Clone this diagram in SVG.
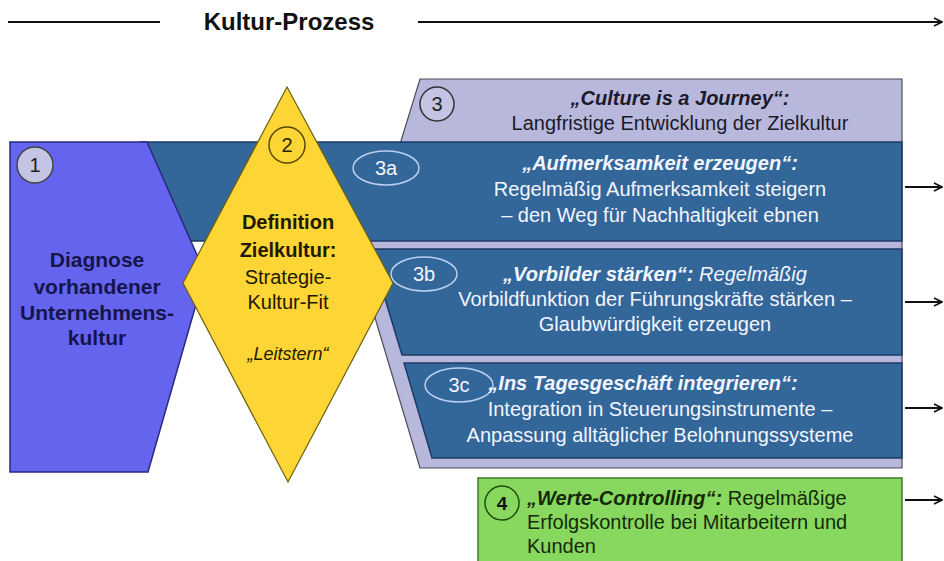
<svg xmlns="http://www.w3.org/2000/svg" width="944" height="561" viewBox="0 0 944 561">
<defs>
<style>
.t{font-family:"Liberation Sans",Arial,sans-serif}
.band{fill:#336699;stroke:#1d3b66;stroke-width:1.5}
.wt{fill:#f2f5ff;font-size:20px;text-anchor:middle}
.bi{font-weight:bold;font-style:italic}
.lab{fill:none;stroke:#b9d0f0;stroke-width:1.5}
.conn{stroke:#111;stroke-width:2;fill:none}
</style>
<marker id="ah" markerWidth="10" markerHeight="10" refX="9" refY="5" orient="auto" markerUnits="userSpaceOnUse">
<path d="M1,1 L9,5 L1,9" fill="none" stroke="#111" stroke-width="1.6"/>
</marker>
</defs>
<rect width="944" height="561" fill="#fff"/>

<g id="title">
<text class="t" x="289" y="30" font-size="24" font-weight="bold" text-anchor="middle" fill="#111">Kultur-Prozess</text>
</g>

<g id="n3">
<polygon points="420,79 902,79 902,468 420,468 361,271" fill="#b8b8dc" stroke="#4a4a5a" stroke-width="1.2"/>
<circle cx="437" cy="104" r="17" fill="#c4c4e4" stroke="#333" stroke-width="1.5"/>
<text class="t" x="437" y="111" font-size="20" text-anchor="middle" fill="#222">3</text>
<text class="t bi" x="680" y="105" font-size="20" text-anchor="middle" fill="#1a1a2a">„Culture is a Journey“:</text>
<text class="t" x="680" y="130" font-size="20" text-anchor="middle" fill="#1a1a2a">Langfristige Entwicklung der Zielkultur</text>
</g>

<g id="n3a">
<rect class="band" x="140" y="142" width="762" height="99"/>
<ellipse class="lab" cx="386" cy="168" rx="33" ry="17"/>
<text class="t" x="386" y="175" font-size="20" text-anchor="middle" fill="#f2f5ff">3a</text>
<text class="t wt bi" x="660" y="170">„Aufmerksamkeit erzeugen“:</text>
<text class="t wt" x="660" y="196">Regelmäßig Aufmerksamkeit steigern</text>
<text class="t wt" x="660" y="222">– den Weg für Nachhaltigkeit ebnen</text>
</g>

<g id="n3b">
<polygon class="band" points="370,249 902,249 902,355 402,355"/>
<ellipse class="lab" cx="424" cy="274" rx="33" ry="17"/>
<text class="t" x="424" y="281" font-size="20" text-anchor="middle" fill="#f2f5ff">3b</text>
<text class="t wt" x="655" y="281"><tspan class="bi">„Vorbilder stärken“:</tspan><tspan font-style="italic"> Regelmäßig</tspan></text>
<text class="t wt" x="655" y="306">Vorbildfunktion der Führungskräfte stärken –</text>
<text class="t wt" x="655" y="331">Glaubwürdigkeit erzeugen</text>
</g>

<g id="n3c">
<polygon class="band" points="404,363 902,363 902,458 432,458"/>
<ellipse class="lab" cx="459" cy="385" rx="34" ry="17"/>
<text class="t" x="459" y="392" font-size="20" text-anchor="middle" fill="#f2f5ff">3c</text>
<text class="t wt bi" x="643" y="390">„Ins Tagesgeschäft integrieren“:</text>
<text class="t wt" x="660" y="416">Integration in Steuerungsinstrumente  –</text>
<text class="t wt" x="660" y="442">Anpassung alltäglicher Belohnungssysteme</text>
</g>

<g id="n1">
<polygon points="10,142 147,142 205,273 148,472 10,472" fill="#6464ee" stroke="#2a2a80" stroke-width="1.5"/>
<circle cx="35" cy="165" r="18" fill="#c4c4e4" stroke="#444" stroke-width="1.5"/>
<text class="t" x="35" y="172" font-size="20" text-anchor="middle" fill="#222">1</text>
<g class="t" font-size="21" font-weight="bold" text-anchor="middle" fill="#15154a">
<text x="97" y="267">Diagnose</text>
<text x="97" y="294">vorhandener</text>
<text x="97" y="320">Unternehmens-</text>
<text x="97" y="345">kultur</text>
</g>
</g>

<g id="n2">
<polygon points="287,87 393,283 288,482 183,283" fill="#fdd535" stroke="#6b5f10" stroke-width="1.2"/>
<circle cx="287" cy="145" r="18" fill="none" stroke="#5a4a00" stroke-width="1.5"/>
<text class="t" x="287" y="152" font-size="20" text-anchor="middle" fill="#2a2200">2</text>
<g class="t" font-size="20" text-anchor="middle" fill="#1e1a00">
<text x="288" y="229" font-weight="bold">Definition</text>
<text x="288" y="257" font-weight="bold">Zielkultur:</text>
<text x="288" y="284">Strategie-</text>
<text x="288" y="309">Kultur-Fit</text>
<text x="288" y="360" font-style="italic" font-size="18">„Leitstern“</text>
</g>
</g>

<g id="n4">
<rect x="478" y="478" width="424" height="90" fill="#88d860" stroke="#3f7a28" stroke-width="1.5"/>
<circle cx="502" cy="503" r="17" fill="none" stroke="#1f4a10" stroke-width="1.5"/>
<text class="t" x="502" y="510" font-size="19" font-weight="bold" text-anchor="middle" fill="#111">4</text>
<g class="t" font-size="20" fill="#152a08">
<text x="527" y="505"><tspan class="bi">„Werte-Controlling“:</tspan> Regelmäßige</text>
<text x="527" y="529">Erfolgskontrolle bei Mitarbeitern und</text>
<text x="527" y="553">Kunden</text>
</g>
</g>

<g id="connectors">
<line class="conn" x1="8" y1="22" x2="160" y2="22"/>
<line class="conn" x1="418" y1="22" x2="942" y2="22" marker-end="url(#ah)"/>
<line class="conn" x1="905" y1="187" x2="942" y2="187" marker-end="url(#ah)"/>
<line class="conn" x1="905" y1="302" x2="942" y2="302" marker-end="url(#ah)"/>
<line class="conn" x1="905" y1="408" x2="942" y2="408" marker-end="url(#ah)"/>
<line class="conn" x1="905" y1="500" x2="942" y2="500" marker-end="url(#ah)"/>
</g>
</svg>
